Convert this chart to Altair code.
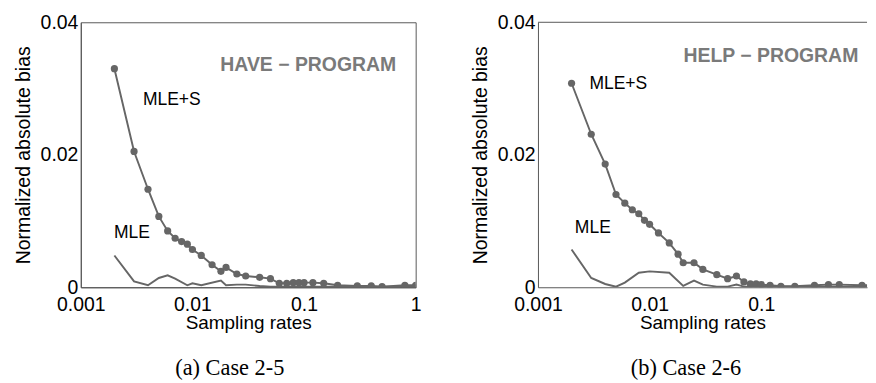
import altair as alt
import pandas as pd

# ---------------- data ----------------
rates_a = [0.002, 0.003, 0.004, 0.005, 0.006, 0.007, 0.008, 0.009, 0.01, 0.012, 0.015,
           0.018, 0.02, 0.025, 0.03, 0.04, 0.05, 0.06, 0.07, 0.08, 0.09, 0.1, 0.12, 0.15,
           0.2, 0.3, 0.4, 0.5, 0.8, 1.0]
mles_a = [0.0330, 0.0205, 0.0148, 0.0107, 0.0085, 0.0074, 0.0069, 0.0065, 0.0057, 0.0048,
          0.0034, 0.0024, 0.0030, 0.0020, 0.0017, 0.0015, 0.0013, 0.0006, 0.0006, 0.0007,
          0.0007, 0.0007, 0.0007, 0.0006, 0.0003, 0.0002, 0.0002, 0.0001, 0.0003, 0.0003]
mle_rates_a = [0.002, 0.003, 0.004, 0.005, 0.006, 0.007, 0.009, 0.01, 0.012, 0.018, 0.02,
               0.025, 0.03, 0.04, 0.05, 0.1, 0.2, 0.5, 1.0]
mle_a = [0.0048, 0.0009, 0.0003, 0.0014, 0.0018, 0.0013, 0.0003, 0.0006, 0.0003, 0.0010,
         0.0003, 0.0004, 0.0004, 0.0002, 0.0001, 0.0001, 0.0001, 0.0001, 0.0001]

rates_b = [0.002, 0.003, 0.004, 0.005, 0.006, 0.007, 0.008, 0.009, 0.01, 0.012, 0.015,
           0.018, 0.02, 0.025, 0.03, 0.04, 0.05, 0.06, 0.07, 0.08, 0.09, 0.1, 0.12, 0.15,
           0.2, 0.3, 0.4, 0.5, 0.8, 1.0]
mles_b = [0.0308, 0.0231, 0.0186, 0.0140, 0.0127, 0.0117, 0.0111, 0.0101, 0.0095, 0.0082,
          0.0067, 0.0050, 0.0037, 0.0037, 0.0027, 0.0019, 0.0013, 0.0017, 0.0008, 0.0005,
          0.0005, 0.0004, 0.0003, 0.00015, 0.00015, 0.0003, 0.0004, 0.0004, 0.0003, 0.0003]
mle_rates_b = [0.002, 0.003, 0.004, 0.005, 0.006, 0.008, 0.01, 0.015, 0.02, 0.025, 0.03,
               0.04, 0.05, 0.06, 0.07, 0.1, 0.2, 0.5, 1.0]
mle_b = [0.0057, 0.0014, 0.0005, 0.0001, 0.0007, 0.0022, 0.0024, 0.0022, 0.0002, 0.0010,
         0.0004, 0.0001, 0.0001, 0.0004, 0.0001, 0.0001, 0.0001, 0.0001, 0.0001]

x_ticks_a = [0.001, 0.01, 0.1, 1]
x_ticks_b = [0.001, 0.01, 0.1]
y_ticks = [0, 0.02, 0.04]

titles = ["HAVE \u2212 PROGRAM", "HELP \u2212 PROGRAM"]
captions = ["(a) Case 2-5", "(b) Case 2-6"]

LINE = "#666666"
SANS = "Liberation Sans"


def panel(rates, mles, mrates, mle, xmax, xticks, width, title, caption,
          lab_s, lab_m, lab_t, cap_dx, right_open):
    xs = alt.Scale(type="log", domain=[0.001, xmax], nice=False)
    ys = alt.Scale(domain=[0, 0.04], nice=False)
    xax = alt.Axis(values=xticks, format="~g", title="Sampling rates", grid=False,
                   tickSize=0, labelFontSize=20, titleFontSize=19.5, labelPadding=8,
                   titlePadding=0, labelFont=SANS, titleFont=SANS, titleFontWeight="normal",
                   labelColor="black", titleColor="black", domainColor="#555555",
                   labelFlush=False, labelOverlap=False)
    yax = alt.Axis(values=y_ticks, format="~g", title="Normalized absolute bias", grid=False,
                   tickSize=0, labelFontSize=20, titleFontSize=20, labelPadding=3,
                   titlePadding=7, labelFont=SANS, titleFont=SANS, titleFontWeight="normal",
                   labelColor="black", titleColor="black", domainColor="#555555")

    d1 = pd.DataFrame({"rate": rates, "bias": mles})
    d2 = pd.DataFrame({"rate": mrates, "bias": mle})

    base1 = alt.Chart(d1)
    l1 = base1.mark_line(color=LINE, strokeWidth=2, clip=True).encode(
        x=alt.X("rate:Q", scale=xs, axis=xax), y=alt.Y("bias:Q", scale=ys, axis=yax))
    p1 = base1.mark_circle(color=LINE, size=55, opacity=1, clip=True).encode(
        x=alt.X("rate:Q", scale=xs), y=alt.Y("bias:Q", scale=ys))
    l2 = alt.Chart(d2).mark_line(color=LINE, strokeWidth=2, clip=True).encode(
        x=alt.X("rate:Q", scale=xs), y=alt.Y("bias:Q", scale=ys))

    t_s = alt.Chart().mark_text(align="left", baseline="middle", fontSize=18, font=SANS,
                                color="black").encode(
        x=alt.datum(lab_s[0], scale=xs), y=alt.datum(lab_s[1], scale=ys), text=alt.value("MLE+S"))
    t_m = alt.Chart().mark_text(align="left", baseline="middle", fontSize=18, font=SANS,
                                color="black").encode(
        x=alt.datum(lab_m[0], scale=xs), y=alt.datum(lab_m[1], scale=ys), text=alt.value("MLE"))
    t_t = alt.Chart().mark_text(align="right", baseline="middle", fontSize=20, font=SANS,
                                fontWeight="bold", color="#7a7a7a").encode(
        x=alt.datum(lab_t[0], scale=xs), y=alt.datum(lab_t[1], scale=ys), text=alt.value(title))

    layers = [l1, l2, p1, t_s, t_m, t_t]
    if right_open:
        top = alt.Chart().mark_rule(color="#555555", strokeWidth=1).encode(
            y=alt.datum(0.04, scale=ys))
        layers.append(top)

    ch = alt.layer(*layers).properties(
        width=width, height=273,
        title=alt.TitleParams(caption, orient="bottom", font="Liberation Serif", fontSize=23,
                              fontWeight="normal", color="black", frame="group", dx=cap_dx,
                              offset=26, anchor="middle"))
    if right_open:
        ch = ch.properties(view=alt.ViewConfig(stroke=None))
    else:
        ch = ch.properties(view=alt.ViewConfig(stroke="#555555", strokeWidth=1))
    return ch


left = panel(rates_a, mles_a, mle_rates_a, mle_a, 1.0, x_ticks_a, 345, titles[0], captions[0],
             (0.0036, 0.0283), (0.00198, 0.0082), (0.67, 0.0336), -19, False)
right = panel(rates_b, mles_b, mle_rates_b, mle_b, 0.887, x_ticks_b, 339, titles[1], captions[1],
              (0.00289, 0.0307), (0.00214, 0.0090), (0.741, 0.0349), -17, True)

chart = alt.hconcat(left, right, spacing=50).configure(
    padding={"left": 5, "top": -2, "right": 0, "bottom": 0},
    background="white")

chart.save("out.html", embed_options={"renderer": "svg", "actions": False})
